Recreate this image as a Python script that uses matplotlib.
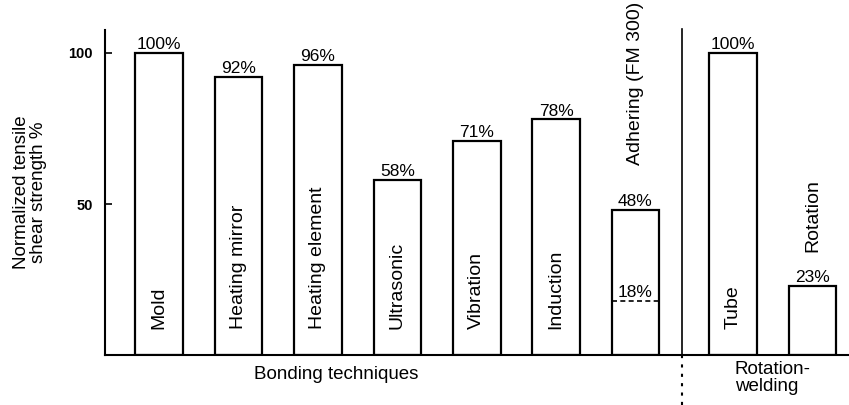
import numpy as np
import matplotlib.pyplot as plt

plt.rcParams['font.family'] = ['Liberation Sans', 'DejaVu Sans']

# Bonding techniques and their normalized tensile shear strength (%)
techniques = ['Mold', 'Heating mirror', 'Heating element', 'Ultrasonic',
              'Vibration', 'Induction', 'Adhering (FM 300)']
strength = [100, 92, 96, 58, 71, 78, 48]
adhering_low = 18

# Rotation welding
rot_names = ['Tube', 'Rotation']
rot_strength = [100, 23]

fig = plt.figure(figsize=(8.49, 4.05), dpi=100)
ax = fig.add_axes([0.124, 0.123, 0.876, 0.803])

x_bond = np.arange(len(techniques))
x_rot = np.array([7.23, 8.23])
width = 0.6
divider = 6.59

ax.bar(x_bond, strength, width, facecolor='white', edgecolor='black', linewidth=1.6)
ax.bar(x_rot, rot_strength, width, facecolor='white', edgecolor='black', linewidth=1.6)

# value labels on top of the bars
for x, v in zip(list(x_bond) + list(x_rot), strength + rot_strength):
    ax.text(x, v + 0.3, f'{v}%', ha='center', va='bottom', fontsize=12.5)

# names: inside tall bars, above short ones
outside = {'Adhering (FM 300)': 63, 'Rotation': 34}
for x, name in zip(list(x_bond) + list(x_rot), techniques + rot_names):
    y = outside.get(name, 8.5)
    ax.text(x, y, name, rotation=90, ha='center', va='bottom', fontsize=14,
            clip_on=False)

# lower value for adhesive bonding shown as dashed line
xa = x_bond[-1]
ax.plot([xa - width / 2, xa + width / 2], [adhering_low, adhering_low],
        color='black', linestyle=(0, (3, 2)), linewidth=1.2)
ax.text(xa, adhering_low + 0.3, f'{adhering_low}%', ha='center', va='bottom', fontsize=12.5)

# separator between the two groups
ax.plot([divider, divider], [0, 108], color='black', linewidth=1.2, clip_on=False)
ax.plot([divider, divider], [0, -17], color='black', linewidth=1.5,
        linestyle=(0, (1.5, 3)), clip_on=False)

ax.text(2.23, -3.5, 'Bonding techniques', ha='center', va='top', fontsize=13.5)
ax.text(7.25, -1.8, 'Rotation-\nwelding', ha='left', va='top', fontsize=13.5,
        linespacing=1.0)

ax.set_xlim(-0.68, 8.69)
ax.set_ylim(0, 107.6)
ax.set_xticks([])
ax.set_yticks([50, 100])
ax.set_yticklabels(['50', '100'], fontsize=10.5, fontweight='bold')
ax.tick_params(axis='y', direction='in', length=5, width=1.2, pad=9)
ax.spines['top'].set_visible(False)
ax.spines['right'].set_visible(False)
ax.spines['left'].set_linewidth(1.5)
ax.spines['bottom'].set_linewidth(1.5)
ax.set_ylabel('Normalized tensile\nshear strength %', fontsize=13.5, linespacing=1.0)
ax.yaxis.set_label_coords(-0.078, 0.5)

fig.savefig('out.png', dpi=100)
